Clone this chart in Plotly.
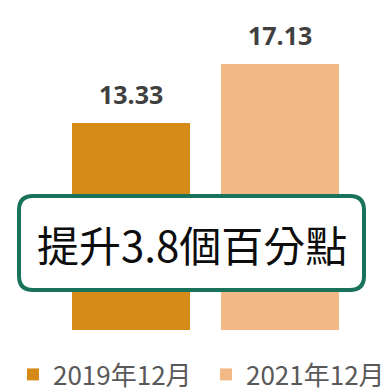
import plotly.graph_objects as go

# Share values for two reporting periods
periods = ["2019年12月", "2021年12月"]
values = [13.33, 17.13]
colors = ["#D68A18", "#F2B986"]
callout = "提升3.8個百分點"

W, H = 387, 391

# each period gets its own legend box so the two entries can be spaced freely
legend_ids = ["legend", "legend2"]
legend_left = [13, 206]

fig = go.Figure()
for name, val, col, lg in zip(periods, values, colors, legend_ids):
    fig.add_trace(go.Bar(
        x=[name], y=[val], name=name, legend=lg,
        marker=dict(color=col, line=dict(width=0)),
        width=0.792, showlegend=True,
    ))

# Value labels above each bar
for name, val in zip(periods, values):
    fig.add_annotation(
        x=name, y=val, xref="x", yref="y",
        text=f"{val:.2f}", showarrow=False,
        yanchor="bottom", yshift=10,
        font=dict(family="Open Sans", size=25, color="#404040", weight="bold"),
    )

# Rounded callout box (pixel layout converted to paper units)
x0, x1, y0, y1, r = 19, 364, 196, 290, 14
def px(v):
    return v / W
def py(v):
    return 1 - v / H
path = (
    f"M{px(x0 + r)},{py(y0)} L{px(x1 - r)},{py(y0)} "
    f"Q{px(x1)},{py(y0)} {px(x1)},{py(y0 + r)} "
    f"L{px(x1)},{py(y1 - r)} Q{px(x1)},{py(y1)} {px(x1 - r)},{py(y1)} "
    f"L{px(x0 + r)},{py(y1)} Q{px(x0)},{py(y1)} {px(x0)},{py(y1 - r)} "
    f"L{px(x0)},{py(y0 + r)} Q{px(x0)},{py(y0)} {px(x0 + r)},{py(y0)} Z"
)
fig.add_shape(type="path", path=path, xref="paper", yref="paper",
              fillcolor="white", line=dict(color="#18735A", width=4), layer="above")
fig.add_annotation(
    x=px((x0 + x1) / 2), y=py(243), xref="paper", yref="paper",
    text=callout, showarrow=False, xanchor="center", yanchor="middle",
    font=dict(family="Noto Sans CJK TC", size=42, color="#0D0D0D", weight="normal"),
)

legend_style = dict(
    orientation="h", xanchor="left", y=-7 / H, yanchor="bottom",
    font=dict(family="Noto Sans CJK TC", size=26, color="#595959"),
    bgcolor="rgba(0,0,0,0)", itemclick=False,
)

fig.update_layout(
    width=W, height=H,
    margin=dict(l=0, r=0, t=0, b=0, autoexpand=False),
    paper_bgcolor="white", plot_bgcolor="white",
    barmode="overlay",
    xaxis=dict(domain=[56.5 / W, 354.5 / W], range=[-0.5, 1.5],
               showticklabels=False, showgrid=False, zeroline=False,
               showline=False, ticks=""),
    yaxis=dict(domain=[(H - 330) / H, 1], range=[0, 330 / 15.53],
               visible=False),
    legend=dict(x=legend_left[0] / W, **legend_style),
    legend2=dict(x=legend_left[1] / W, **legend_style),
    showlegend=True,
)

fig.write_html("out.html")
